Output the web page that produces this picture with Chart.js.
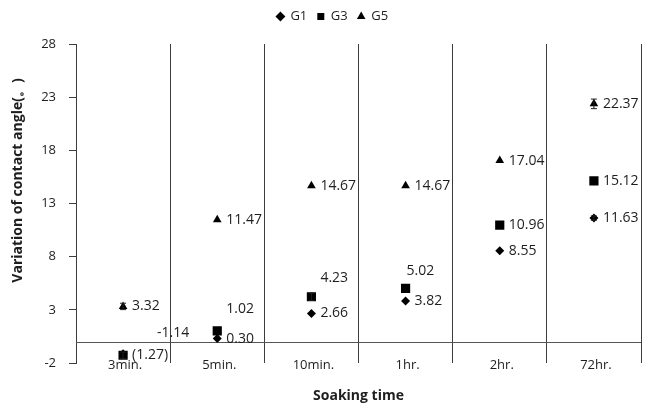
<!DOCTYPE html>
<html>
<head>
<meta charset="utf-8">
<script src="https://cdn.jsdelivr.net/npm/chart.js@4/dist/chart.umd.min.js"></script>
<style>
  html, body { margin: 0; padding: 0; background: #fff; }
  #wrap { width: 650px; height: 408px; }
</style>
</head>
<body>
<div id="wrap"><canvas id="myChart" width="650" height="408"></canvas></div>
<script>
var times = ['3min.', '5min.', '10min.', '1hr.', '2hr.', '72hr.']
var yTicks = [-2, 3, 8, 13, 18, 23, 28]

var g1 = [-1.14, 0.30, 2.66, 3.82, 8.55, 11.63]
var g3 = [-1.27, 1.02, 4.23, 5.02, 10.96, 15.12]
var g5 = [3.32, 11.47, 14.67, 14.67, 17.04, 22.37]

var g1Text = ['-1.14', '0.30', '2.66', '3.82', '8.55', '11.63']
var g3Text = ['(1.27)', '1.02', '4.23', '5.02', '10.96', '15.12']
var g5Text = ['3.32', '11.47', '14.67', '14.67', '17.04', '22.37']

// standard deviations (small whiskers)
var g1Err = [0, 0, 0, 0, 0, 0.2]
var g3Err = [0.3, 0, 0.35, 0, 0, 0]
var g5Err = [0.3, 0, 0, 0, 0, 0.45]

// label nudges in px, [dx, dy] from the default spot right of the marker
var g1Nudge = [[25, -21], [0, 0], [0, 0], [0, 0], [0, 0], [0, 0]]
var g3Nudge = [[0, 0], [0, -22], [0, -19], [-8, -17], [0, 0], [0, 0]]
var g5Nudge = [[0, 0], [0, 0], [0, 0], [0, 0], [0, 0], [0, 0]]

var yTitle = 'Variation of contact angle(。)'

var FONT = "'Open Sans', 'Noto Sans', sans-serif"
var INK = '#1e1e1e'

// extra room under the legend and a small nudge to the right
var legendRoom = {
  id: 'legendRoom',
  afterInit: function (chart) {
    var lg = chart.legend
    var fit = lg.fit
    lg.fit = function () {
      fit.call(this)
      this.height += 11
    }
  },
  afterLayout: function (chart) {
    chart.legend.left += 12
    chart.legend.right += 12
  }
}

var errBars = {
  id: 'errBars',
  afterDatasetsDraw: function (chart) {
    var ctx = chart.ctx
    var y = chart.scales.y
    ctx.save()
    ctx.strokeStyle = INK
    ctx.lineWidth = 1
    chart.data.datasets.forEach(function (ds, i) {
      var meta = chart.getDatasetMeta(i)
      meta.data.forEach(function (pt, j) {
        var e = ds.err[j]
        if (!e) return
        var top = y.getPixelForValue(ds.data[j] + e)
        var bot = y.getPixelForValue(ds.data[j] - e)
        ctx.beginPath()
        ctx.moveTo(pt.x, top); ctx.lineTo(pt.x, bot)
        ctx.moveTo(pt.x - 3, top); ctx.lineTo(pt.x + 3, top)
        ctx.moveTo(pt.x - 3, bot); ctx.lineTo(pt.x + 3, bot)
        ctx.stroke()
      })
    })
    ctx.restore()
  }
}

// horizontal line at 0, category names and the rotated y title
var axisExtras = {
  id: 'axisExtras',
  beforeDatasetsDraw: function (chart) {
    var ctx = chart.ctx
    var a = chart.chartArea
    var xs = chart.scales.x
    var py = Math.round(chart.scales.y.getPixelForValue(0)) + 0.5
    ctx.save()
    ctx.strokeStyle = '#555'
    ctx.lineWidth = 1
    ctx.beginPath()
    ctx.moveTo(a.left, py)
    ctx.lineTo(a.right, py)
    ctx.stroke()

    ctx.fillStyle = INK
    ctx.font = '13px ' + FONT
    ctx.textAlign = 'center'
    ctx.textBaseline = 'middle'
    times.forEach(function (t, i) {
      ctx.fillText(t, xs.getPixelForValue(i) + 2, a.bottom + 2)
    })

    ctx.font = 'bold 14px ' + FONT
    ctx.translate(18, a.top + (a.bottom - a.top) / 2 - 23)
    ctx.rotate(-Math.PI / 2)
    ctx.fillText(yTitle, 0, 0)
    ctx.restore()
  }
}

var valueLabels = {
  id: 'valueLabels',
  afterDatasetsDraw: function (chart) {
    var ctx = chart.ctx
    ctx.save()
    ctx.font = '14px ' + FONT
    ctx.fillStyle = INK
    ctx.textAlign = 'left'
    ctx.textBaseline = 'middle'
    chart.data.datasets.forEach(function (ds, i) {
      var meta = chart.getDatasetMeta(i)
      meta.data.forEach(function (pt, j) {
        var n = ds.nudge[j]
        ctx.fillText(ds.texts[j], pt.x + 9 + n[0], pt.y + n[1])
      })
    })
    ctx.restore()
  }
}

var chart = new Chart('myChart', {
  type: 'line',
  data: {
    labels: times,
    datasets: [
      { label: 'G1', data: g1, texts: g1Text, err: g1Err, nudge: g1Nudge,
        pointStyle: 'rectRot', pointRadius: 4.5 },
      { label: 'G3', data: g3, texts: g3Text, err: g3Err, nudge: g3Nudge,
        pointStyle: 'rect', pointRadius: 6.5 },
      { label: 'G5', data: g5, texts: g5Text, err: g5Err, nudge: g5Nudge,
        pointStyle: 'triangle', pointRadius: 5 }
    ].map(function (d) {
      d.showLine = false
      d.borderColor = '#000'
      d.backgroundColor = '#000'
      d.pointBackgroundColor = '#000'
      d.pointBorderColor = '#000'
      d.pointBorderWidth = 0
      d.pointHoverRadius = d.pointRadius
      return d
    })
  },
  options: {
    responsive: false,
    animation: false,
    events: [],
    layout: { padding: { top: 0, left: 0, right: 9, bottom: 0 } },
    plugins: {
      legend: {
        position: 'top',
        labels: {
          usePointStyle: true,
          boxWidth: 7,
          boxHeight: 7,
          padding: 10,
          color: INK,
          font: { family: FONT, size: 13 }
        }
      },
      title: { display: false },
      tooltip: { enabled: false }
    },
    scales: {
      x: {
        offset: true,
        grid: { offset: true, color: '#3c3c3c', drawTicks: false },
        border: { display: false },
        ticks: { display: false },
        title: {
          display: true,
          text: 'Soaking time',
          color: INK,
          padding: { top: 0, bottom: 4 },
          font: { family: FONT, size: 14, weight: 'bold' }
        },
        afterFit: function (s) { s.height = 45 }
      },
      y: {
        min: -2,
        max: 28,
        afterBuildTicks: function (s) {
          s.ticks = yTicks.map(function (v) { return { value: v } })
        },
        grid: { drawOnChartArea: false, tickLength: 7, color: '#3c3c3c' },
        border: { display: true, color: '#3c3c3c' },
        ticks: { color: INK, padding: 13, font: { family: FONT, size: 13 } },
        title: { display: false },
        afterFit: function (s) { s.width = 76 }
      }
    }
  },
  plugins: [legendRoom, axisExtras, errBars, valueLabels]
})
</script>
</body>
</html>
